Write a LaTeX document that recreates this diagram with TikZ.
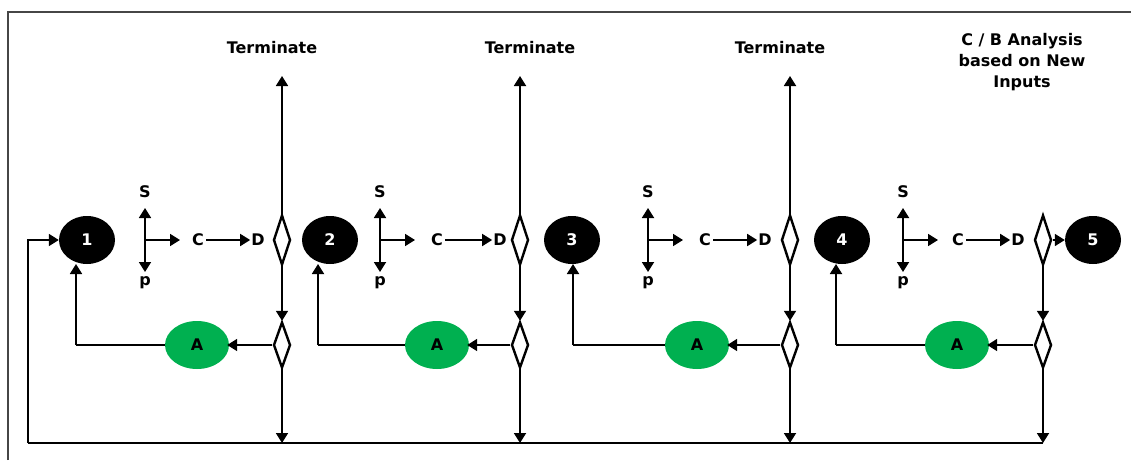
\documentclass[tikz,border=0pt]{standalone}
\usepackage{fontspec}
\setmainfont{DejaVu Sans}
\usetikzlibrary{shapes.geometric,arrows.meta}
\definecolor{agreen}{RGB}{0,176,80}
\definecolor{framegray}{RGB}{70,70,70}
\tikzset{
  lbl/.style={font=\bfseries\fontsize{16}{18}\selectfont, inner sep=0pt},
  circ/.style={ellipse, fill=black, minimum width=56pt, minimum height=48pt, inner sep=0pt, text=white, font=\bfseries\fontsize{16}{18}\selectfont},
  gcirc/.style={ellipse, fill=agreen, minimum width=64pt, minimum height=48pt, inner sep=0pt, text=black, font=\bfseries\fontsize{16}{18}\selectfont},
  dia/.style={diamond, draw=black, line width=2.4pt, minimum width=17pt, minimum height=50pt, inner sep=0pt, fill=white},
  ldia/.style={diamond, draw=black, line width=2.4pt, minimum width=17pt, minimum height=46pt, inner sep=0pt, fill=white},
  conn/.style={line width=1.8pt, -{Triangle[length=10pt,width=12pt]}},
  plain/.style={line width=1.8pt},
}
\begin{document}
\begin{tikzpicture}[x=1pt,y=-1pt]
\useasboundingbox (0,0) rectangle (1131,460);
% frame
\draw[framegray, line width=2pt] (8,460) -- (8,12) -- (1131,12);

% stage circles
\node[circ] (c1) at (87,240) {1};
\node[circ] (c2) at (330,240) {2};
\node[circ] (c3) at (572,240) {3};
\node[circ] (c4) at (842,240) {4};
\node[circ] (c5) at (1093,240) {5};

% terminate labels
\node[lbl] (t1) at (272,48) {Terminate};
\node[lbl] (t2) at (530,48) {Terminate};
\node[lbl] (t3) at (780,48) {Terminate};
\node[lbl, align=center, font=\bfseries\fontsize{16}{21}\selectfont] (cb) at (1022,62) {C / B Analysis\\based on New\\Inputs};

\coordinate (corner) at (28,443);

\foreach \i/\sp/\cx/\dx/\dia/\ax/\rx/\ci in {1/145/198/258/282/197/76/c1, 2/380/437/500/520/437/318/c2, 3/648/705/765/790/697/573/c3, 4/903/958/1018/1043/957/836/c4}{
  \node[lbl] (s\i) at (\sp,192) {S};
  \node[lbl] (p\i) at (\sp,283) {p};
  \coordinate (st\i) at (\sp,208);
  \coordinate (sb\i) at (\sp,272);
  \coordinate (sm\i) at (\sp,240);
  \coordinate (sr\i) at (\sp+35,240);
  \draw[conn] (sm\i) -- (st\i);
  \draw[conn] (sm\i) -- (sb\i);
  \draw[conn] (sm\i) -- (sr\i);
  \node[lbl] (cc\i) at (\cx,240) {C};
  \node[lbl] (dd\i) at (\dx,240) {D};
  \draw[conn] (cc\i.east) ++(2,0) coordinate (ce\i) (ce\i) -- ([xshift=-1pt]dd\i.west);
  \node[dia] (ud\i) at (\dia,240) {};
  \node[ldia] (ld\i) at (\dia,345) {};
  \node[gcirc] (a\i) at (\ax,345) {A};
  \coordinate (bt\i) at (\dia,443);
  \coordinate (rc\i) at (\rx,345);
  \draw[conn] (ud\i.south) -- (ld\i.north);
  \draw[conn] (ld\i.south) -- (bt\i);
  \draw[conn] (ld\i.west) -- ([xshift=-2pt]a\i.east);
  \draw[plain] (a\i.west) -- (rc\i);
  \draw[conn] (rc\i) -- (\rx,264);
}
% upward terminate arrows
\foreach \i in {1,2,3}{
  \coordinate (tt\i) at (ud\i |- 0,76);
  \draw[conn] (ud\i.north) -- (tt\i);
}
% arrow into circle 5
\draw[conn] (ud4.east) -- (c5.west);
% bottom feedback
\draw[plain] (bt4) -- (corner);
\draw[conn] (corner) |- (c1.west);
\end{tikzpicture}
\end{document}
